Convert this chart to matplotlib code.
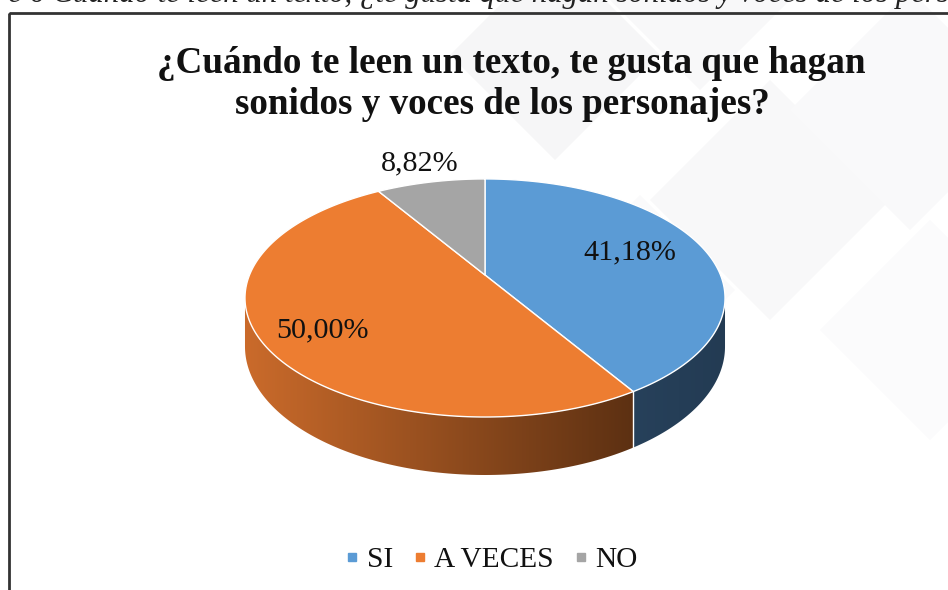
import numpy as np
import matplotlib
matplotlib.use("Agg")
import matplotlib.pyplot as plt
from matplotlib.patches import Polygon, Rectangle
from matplotlib.lines import Line2D
from matplotlib.colors import to_rgb

# ---------------- data ----------------
categories = ["SI", "A VECES", "NO"]
values = [41.18, 50.00, 8.82]
top_colors = ["#5b9bd5", "#ed7d31", "#a5a5a5"]
title_lines = ["¿Cuándo te leen un texto, te gusta que hagan",
               "sonidos y voces de los personajes?"]
caption_prefix = "e 6 Cuándo te leen un texto,"
caption_rest = "¿te gusta que hagan sonidos y voces de los personajes?"

SERIF = ["Liberation Serif", "DejaVu Serif"]

fig = plt.figure(figsize=(9.48, 5.9), dpi=100)
ax = fig.add_axes([0, 0, 1, 1])
ax.axis("off")
ax.set_xlim(0, 948)
ax.set_ylim(590, 0)

# very faint background diamonds (watermark)
for (dx, dy, s, c) in [(555, 55, 105, "#f6f6f7"), (700, -20, 110, "#f8f8f9"),
                       (770, 200, 120, "#f8f8f9"), (910, 110, 120, "#f9f9fa"),
                       (640, 290, 95, "#fafafb"), (930, 330, 110, "#fbfbfc")]:
    ax.add_patch(Polygon([(dx, dy - s), (dx + s, dy), (dx, dy + s), (dx - s, dy)],
                         closed=True, facecolor=c, edgecolor="none", zorder=0))

# chart border
ax.add_patch(Rectangle((9, 13), 1000, 620, facecolor="none",
                       edgecolor="#333333", lw=2, zorder=1))

# cut-off caption above the chart
renderer = fig.canvas.get_renderer()
probe = ax.text(0, 0, "¿te gusta que hagan sonidos y voces de los p", fontsize=20,
                family=SERIF, style="italic")
w20 = probe.get_window_extent(renderer).width
probe.remove()
cap_size = 20 * 551.0 / w20
probe = ax.text(0, 0, caption_prefix, fontsize=cap_size, family=SERIF, style="italic")
wpre = probe.get_window_extent(renderer).width
probe.remove()
space_px = 0.25 * cap_size * 100 / 72
ax.text(360 - wpre - space_px, 2, caption_prefix + " " + caption_rest, fontsize=cap_size,
        family=SERIF, style="italic", color="#222222", va="baseline", ha="left", zorder=1)

# ---------------- 3D pie geometry (perspective ellipse) ----------------
CX, CY = 485.0, 275.0
A, B, K, D = 235.5, 114.6, -0.193, 46.8


def proj(theta_deg, r=1.0, z=0.0):
    t = np.radians(theta_deg)
    u = r * np.sin(t)
    v = -r * np.cos(t)
    den = 1 + K * v
    return CX + A * u / den, CY + B * v / den + z * D / den


vals = np.array(values, dtype=float)
frac = vals / vals.sum()
edges = np.concatenate([[0.0], np.cumsum(frac) * 360.0])

th_right = np.degrees(np.arccos(K))
th_left = 360.0 - th_right

side_dark = {0: ("#27415b", "#233b53"), 1: ("#cb6b2b", "#5c3012"), 2: ("#8a8a8a", "#5a5a5a")}

# side walls
for i in range(len(vals)):
    a, b = max(edges[i], th_right), min(edges[i + 1], th_left)
    if b <= a:
        continue
    th = np.linspace(a, b, 120)
    tx, ty = proj(th)
    bx, by = proj(th, z=1.0)
    pts = np.column_stack([np.concatenate([tx, bx[::-1]]), np.concatenate([ty, by[::-1]])])
    poly = Polygon(pts, closed=True, facecolor="none", edgecolor="none", zorder=2)
    ax.add_patch(poly)
    c0, c1 = np.array(to_rgb(side_dark[i][0])), np.array(to_rgb(side_dark[i][1]))
    tt = np.linspace(0, 1, 256)[None, :, None]
    img = c0[None, None, :] * (1 - tt) + c1[None, None, :] * tt
    im = ax.imshow(img, extent=(pts[:, 0].min() - 2, pts[:, 0].max() + 2,
                                pts[:, 1].max() + 2, pts[:, 1].min() - 2),
                   aspect="auto", zorder=2, interpolation="bilinear")
    im.set_clip_path(poly)

# white separators on the side wall at visible slice boundaries
for e in edges[1:-1]:
    if th_right < e < th_left:
        x0, y0 = proj(e)
        x1, y1 = proj(e, z=1.0)
        ax.plot([x0, x1], [y0, y1], color="white", lw=1.0, zorder=3)

# top face
for i in range(len(vals)):
    th = np.linspace(edges[i], edges[i + 1], 200)
    x, y = proj(th)
    pts = np.column_stack([np.concatenate([[CX], x]), np.concatenate([[CY], y])])
    ax.add_patch(Polygon(pts, closed=True, facecolor=top_colors[i],
                         edgecolor="white", lw=1.0, joinstyle="round", zorder=4))

# data labels
label_r = [0.66, 0.75, 1.25]
label_dy = [-3, 6, 0]
for i, v in enumerate(values):
    mid = (edges[i] + edges[i + 1]) / 2
    x, y = proj(mid, r=label_r[i])
    ax.text(x, y + label_dy[i], f"{v:.2f}".replace(".", ",") + "%", fontsize=21.7,
            family=SERIF, ha="center", va="center", color="#111111", zorder=5)

# title
ax.text(511, 73, title_lines[0], fontsize=26.7, family=SERIF, weight="bold",
        ha="center", va="baseline", color="#111111", zorder=5)
ax.text(502, 114, title_lines[1], fontsize=26.7, family=SERIF, weight="bold",
        ha="center", va="baseline", color="#111111", zorder=5)

# legend
handles = [Line2D([], [], ls="", marker="s", markersize=6, color=c, mec=c)
           for c in top_colors]
leg = ax.legend(handles, categories, ncol=3, frameon=False, loc="center",
                bbox_to_anchor=(492, 560), bbox_transform=ax.transData,
                prop={"family": SERIF, "size": 21.2}, handlelength=0.4,
                handletextpad=0.3, columnspacing=0.7)
for t in leg.get_texts():
    t.set_color("#111111")

ax.set_xlim(0, 948)
ax.set_ylim(590, 0)
fig.savefig("out.png", dpi=100)
